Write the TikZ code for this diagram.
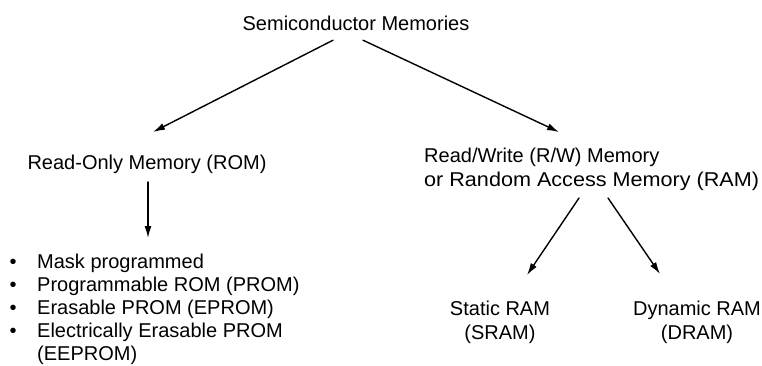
\documentclass[tikz,border=0pt]{standalone}
\usepackage{fontspec}
\setmainfont{Liberation Sans}
\usetikzlibrary{arrows.meta,calc}

\begin{document}
\begin{tikzpicture}[x=1pt, y=-1pt, line join=round, line cap=round,
    arr/.style={line width=1.4pt, -{Latex[length=12pt,width=7pt]}},
    lbl/.style={inner sep=0pt, font=\fontsize{20}{24}\selectfont}]
    % 画布边框 (与参考图比例一致)
    \useasboundingbox (0,0) rectangle (762,366);

    % 1. 顶层节点
    \node[lbl, anchor=base] (semi) at (356,30.2) {Semiconductor Memories};

    % 2. 第二层: ROM 与 RAM
    \node[lbl, anchor=base] (rom) at (147,170) {Read-Only Memory (ROM)};
    \node[lbl, anchor=west, align=left] (ram) at (424,169)
        {Read/Write (R/W) Memory\\\scalebox{1.08}[1]{or Random Access Memory (RAM)}};

    % 3. ROM 的种类 (列表, 行距略小)
    \node[lbl, anchor=north west, align=left, font=\fontsize{20}{23}\selectfont]
        (romtypes) at (9.5,253.5)
        {\makebox[27.5pt][l]{\textbullet}Mask programmed\\
         \makebox[27.5pt][l]{\textbullet}Programmable ROM (PROM)\\
         \makebox[27.5pt][l]{\textbullet}Erasable PROM (EPROM)\\
         \makebox[27.5pt][l]{\textbullet}Electrically Erasable PROM\\
         \hspace*{27.5pt}(EEPROM)};

    % 4. RAM 的种类
    \node[lbl, align=center] (sram) at (500,322) {Static RAM\\(SRAM)};
    \node[lbl, align=center] (dram) at (697,322) {Dynamic RAM\\(DRAM)};

    % 5. 箭头
    \draw[arr] ([shift={(-23,10)}]semi.base) -- ([shift={(6,-38)}]rom.base);
    \draw[arr] ([shift={(7,10)}]semi.base) -- ([shift={(135,-37)}]ram.west);
    \draw[arr] ([shift={(1,12)}]rom.base) -- ([shift={(138.5,-15.5)}]romtypes.north west);
    \draw[arr] ([shift={(155,29)}]ram.west) -- ([shift={(27,-47)}]sram.center);
    \draw[arr] ([shift={(184,29)}]ram.west) -- ([shift={(-37,-48)}]dram.center);
\end{tikzpicture}
\end{document}
